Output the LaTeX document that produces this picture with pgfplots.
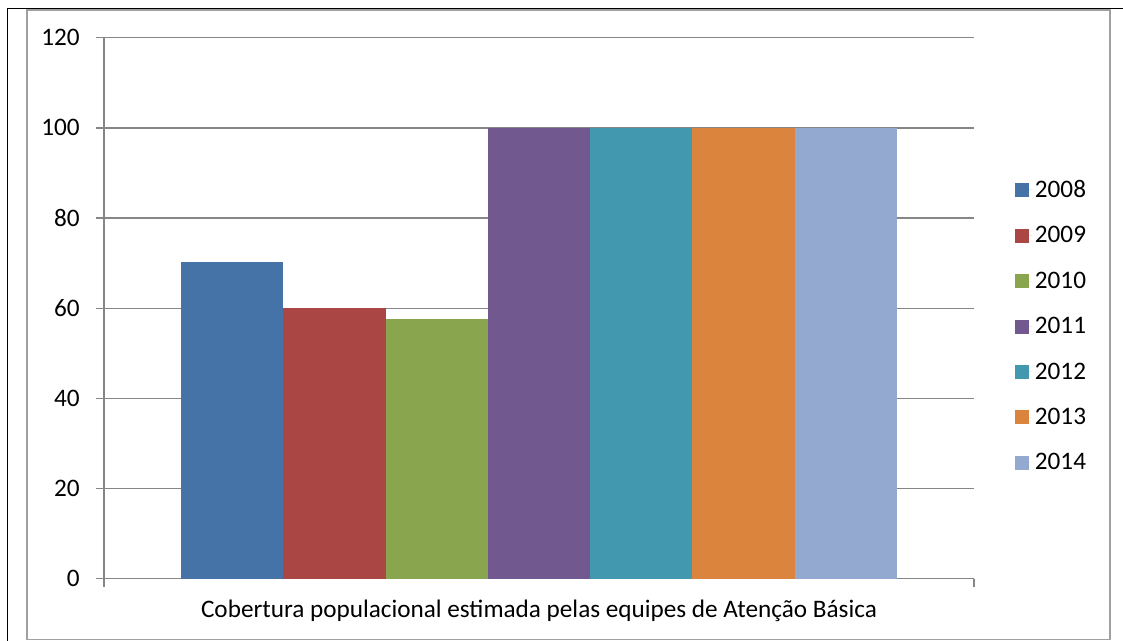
\documentclass[border=0pt]{standalone}
\usepackage{fontspec}
\setmainfont{Carlito}
\usepackage{pgfplots}
\pgfplotsset{compat=1.18}
\definecolor{c08}{HTML}{4572A7}
\definecolor{c09}{HTML}{AA4643}
\definecolor{c10}{HTML}{89A54E}
\definecolor{c11}{HTML}{71588F}
\definecolor{c12}{HTML}{4198AF}
\definecolor{c13}{HTML}{DB843D}
\definecolor{c14}{HTML}{93A9CF}
\definecolor{gridc}{HTML}{868686}
\definecolor{framec}{HTML}{A0A0A0}
\newcommand{\chfont}{\fontsize{18.9}{22.7}\selectfont}
\pgfplotsset{
  mybar/.style={ybar, bar width=1, bar shift=0pt, draw=none, fill=#1,
    legend image code/.code={\fill[fill=#1,draw=none] (0pt,-5.25pt) rectangle (10.5pt,5.25pt);
      \path (0pt,0pt) -- (12.75pt,0pt);}},
}
\begin{document}
\begin{tikzpicture}[x=0.75pt,y=0.75pt]
\useasboundingbox (0,0) rectangle (1123,641);
\draw[black, line width=1.4pt] (7.5,0) -- (7.5,632.5) -- (1123,632.5);
\draw[framec, line width=0.9pt] (27,1.5) rectangle (1110,631);
\begin{axis}[
  at={(78pt,46.725pt)}, anchor=south west,
  scale only axis, width=652.5pt, height=405.75pt,
  xmin=-1.252, xmax=7.252, ymin=0, ymax=120,
  ytick={0,20,...,120},
  xtick={-1.252,7.252}, xticklabels={},
  axis lines=left,
  axis line style={gridc, line width=1pt, -},
  ymajorgrids, grid style={gridc, line width=1pt},
  tick style={gridc, line width=1pt},
  tick align=outside, major tick length=6pt,
  /pgf/number format/assume math mode=true,
  yticklabel style={font=\chfont, inner sep=0pt, anchor=east, xshift=-12pt},
  xlabel={Cobertura populacional estimada pelas equipes de Atenção Básica},
  xlabel style={at={(axis description cs:0.5,0)}, anchor=center, yshift=-24.5pt, font=\chfont},
  legend style={at={(1.0471,0.742)}, anchor=north west, draw=none, fill=none,
    inner sep=0pt, font=\chfont, row sep=16.3pt},
  legend cell align=left,
  clip=false,
]
\addplot[mybar=c08] coordinates {(0,70.3)};
\addplot[mybar=c09] coordinates {(1,60)};
\addplot[mybar=c10] coordinates {(2,57.5)};
\addplot[mybar=c11] coordinates {(3,100)};
\addplot[mybar=c12] coordinates {(4,100)};
\addplot[mybar=c13] coordinates {(5,100)};
\addplot[mybar=c14] coordinates {(6,100)};
\legend{2008,2009,2010,2011,2012,2013,2014}
\end{axis}
\end{tikzpicture}
\end{document}
